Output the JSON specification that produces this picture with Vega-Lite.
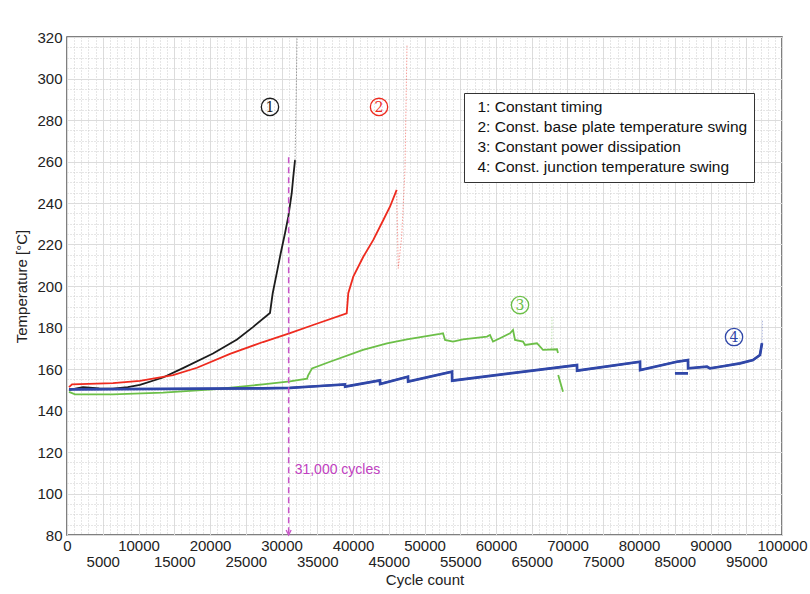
{
  "$schema": "https://vega.github.io/schema/vega-lite/v6.json",
  "width": 715,
  "height": 498,
  "autosize": "none",
  "padding": {"left": 67, "top": 37, "right": 28, "bottom": 59},
  "background": "white",
  "config": {
    "view": {"stroke": "#555", "strokeWidth": 1.5},
    "font": "Liberation Sans",
    "axis": {"labelFont": "Liberation Sans", "titleFont": "Liberation Sans", "labelFontSize": 15, "titleFontSize": 15, "titleFontWeight": "normal", "labelColor": "#222", "titleColor": "#222", "domain": false, "ticks": false, "labelOverlap": false, "labelBound": false, "labelFlush": false}
  },
  "datasets": {
    "lines": [
      {"s": "1: Constant timing", "g": "1a", "x": 280, "y": 149.9},
      {"s": "1: Constant timing", "g": "1a", "x": 2240, "y": 151.3},
      {"s": "1: Constant timing", "g": "1a", "x": 4500, "y": 150.6},
      {"s": "1: Constant timing", "g": "1a", "x": 6430, "y": 150.5},
      {"s": "1: Constant timing", "g": "1a", "x": 8500, "y": 151.3},
      {"s": "1: Constant timing", "g": "1a", "x": 10200, "y": 152.3},
      {"s": "1: Constant timing", "g": "1a", "x": 13430, "y": 155.9},
      {"s": "1: Constant timing", "g": "1a", "x": 16220, "y": 160.4},
      {"s": "1: Constant timing", "g": "1a", "x": 20420, "y": 167.5},
      {"s": "1: Constant timing", "g": "1a", "x": 23780, "y": 174.2},
      {"s": "1: Constant timing", "g": "1a", "x": 26000, "y": 180.2},
      {"s": "1: Constant timing", "g": "1a", "x": 28390, "y": 187.0},
      {"s": "1: Constant timing", "g": "1a", "x": 28770, "y": 196.5},
      {"s": "1: Constant timing", "g": "1a", "x": 29330, "y": 206.1},
      {"s": "1: Constant timing", "g": "1a", "x": 29890, "y": 215.8},
      {"s": "1: Constant timing", "g": "1a", "x": 30490, "y": 225.4},
      {"s": "1: Constant timing", "g": "1a", "x": 30950, "y": 233.4},
      {"s": "1: Constant timing", "g": "1a", "x": 31430, "y": 244.7},
      {"s": "1: Constant timing", "g": "1a", "x": 31650, "y": 252.7},
      {"s": "1: Constant timing", "g": "1a", "x": 31890, "y": 260.7},
      {"s": "2: Const. base plate temperature swing", "g": "2a", "x": 280, "y": 151.3},
      {"s": "2: Const. base plate temperature swing", "g": "2a", "x": 700, "y": 152.6},
      {"s": "2: Const. base plate temperature swing", "g": "2a", "x": 6430, "y": 153.2},
      {"s": "2: Const. base plate temperature swing", "g": "2a", "x": 10200, "y": 154.3},
      {"s": "2: Const. base plate temperature swing", "g": "2a", "x": 14830, "y": 157.0},
      {"s": "2: Const. base plate temperature swing", "g": "2a", "x": 18180, "y": 160.6},
      {"s": "2: Const. base plate temperature swing", "g": "2a", "x": 22800, "y": 167.3},
      {"s": "2: Const. base plate temperature swing", "g": "2a", "x": 27410, "y": 173.0},
      {"s": "2: Const. base plate temperature swing", "g": "2a", "x": 31190, "y": 177.3},
      {"s": "2: Const. base plate temperature swing", "g": "2a", "x": 34410, "y": 181.2},
      {"s": "2: Const. base plate temperature swing", "g": "2a", "x": 39120, "y": 186.8},
      {"s": "2: Const. base plate temperature swing", "g": "2a", "x": 39340, "y": 196.5},
      {"s": "2: Const. base plate temperature swing", "g": "2a", "x": 40040, "y": 204.5},
      {"s": "2: Const. base plate temperature swing", "g": "2a", "x": 41440, "y": 214.1},
      {"s": "2: Const. base plate temperature swing", "g": "2a", "x": 42840, "y": 222.2},
      {"s": "2: Const. base plate temperature swing", "g": "2a", "x": 44240, "y": 231.8},
      {"s": "2: Const. base plate temperature swing", "g": "2a", "x": 45170, "y": 238.2},
      {"s": "2: Const. base plate temperature swing", "g": "2a", "x": 46110, "y": 246.3},
      {"s": "3: Constant power dissipation", "g": "3a", "x": 280, "y": 149.0},
      {"s": "3: Constant power dissipation", "g": "3a", "x": 1120, "y": 147.8},
      {"s": "3: Constant power dissipation", "g": "3a", "x": 6430, "y": 147.8},
      {"s": "3: Constant power dissipation", "g": "3a", "x": 13430, "y": 148.6},
      {"s": "3: Constant power dissipation", "g": "3a", "x": 20420, "y": 150.2},
      {"s": "3: Constant power dissipation", "g": "3a", "x": 27410, "y": 152.6},
      {"s": "3: Constant power dissipation", "g": "3a", "x": 31190, "y": 154.0},
      {"s": "3: Constant power dissipation", "g": "3a", "x": 33570, "y": 155.3},
      {"s": "3: Constant power dissipation", "g": "3a", "x": 33710, "y": 156.8},
      {"s": "3: Constant power dissipation", "g": "3a", "x": 34270, "y": 160.3},
      {"s": "3: Constant power dissipation", "g": "3a", "x": 36780, "y": 163.5},
      {"s": "3: Constant power dissipation", "g": "3a", "x": 41400, "y": 169.2},
      {"s": "3: Constant power dissipation", "g": "3a", "x": 44760, "y": 172.4},
      {"s": "3: Constant power dissipation", "g": "3a", "x": 47550, "y": 174.3},
      {"s": "3: Constant power dissipation", "g": "3a", "x": 52170, "y": 176.9},
      {"s": "3: Constant power dissipation", "g": "3a", "x": 52590, "y": 177.2},
      {"s": "3: Constant power dissipation", "g": "3a", "x": 52870, "y": 174.0},
      {"s": "3: Constant power dissipation", "g": "3a", "x": 53990, "y": 173.2},
      {"s": "3: Constant power dissipation", "g": "3a", "x": 55380, "y": 174.3},
      {"s": "3: Constant power dissipation", "g": "3a", "x": 58740, "y": 175.6},
      {"s": "3: Constant power dissipation", "g": "3a", "x": 59160, "y": 176.4},
      {"s": "3: Constant power dissipation", "g": "3a", "x": 59580, "y": 173.2},
      {"s": "3: Constant power dissipation", "g": "3a", "x": 60560, "y": 174.8},
      {"s": "3: Constant power dissipation", "g": "3a", "x": 61960, "y": 177.2},
      {"s": "3: Constant power dissipation", "g": "3a", "x": 62380, "y": 178.8},
      {"s": "3: Constant power dissipation", "g": "3a", "x": 62660, "y": 174.0},
      {"s": "3: Constant power dissipation", "g": "3a", "x": 63780, "y": 173.2},
      {"s": "3: Constant power dissipation", "g": "3a", "x": 64060, "y": 171.6},
      {"s": "3: Constant power dissipation", "g": "3a", "x": 65730, "y": 172.4},
      {"s": "3: Constant power dissipation", "g": "3a", "x": 66570, "y": 169.2},
      {"s": "3: Constant power dissipation", "g": "3a", "x": 68530, "y": 169.5},
      {"s": "3: Constant power dissipation", "g": "3a", "x": 68670, "y": 167.7},
      {"s": "3: Constant power dissipation", "g": "3b", "x": 68700, "y": 157.1},
      {"s": "3: Constant power dissipation", "g": "3b", "x": 69000, "y": 153.5},
      {"s": "3: Constant power dissipation", "g": "3b", "x": 69370, "y": 149.0},
      {"s": "4: Const. junction temperature swing", "g": "4a", "x": 280, "y": 150.2},
      {"s": "4: Const. junction temperature swing", "g": "4a", "x": 27410, "y": 150.7},
      {"s": "4: Const. junction temperature swing", "g": "4a", "x": 31190, "y": 150.9},
      {"s": "4: Const. junction temperature swing", "g": "4a", "x": 35380, "y": 151.8},
      {"s": "4: Const. junction temperature swing", "g": "4a", "x": 38880, "y": 152.6},
      {"s": "4: Const. junction temperature swing", "g": "4a", "x": 38900, "y": 151.5},
      {"s": "4: Const. junction temperature swing", "g": "4a", "x": 43780, "y": 154.5},
      {"s": "4: Const. junction temperature swing", "g": "4a", "x": 43800, "y": 152.8},
      {"s": "4: Const. junction temperature swing", "g": "4a", "x": 47690, "y": 156.3},
      {"s": "4: Const. junction temperature swing", "g": "4a", "x": 47710, "y": 153.9},
      {"s": "4: Const. junction temperature swing", "g": "4a", "x": 53850, "y": 158.7},
      {"s": "4: Const. junction temperature swing", "g": "4a", "x": 53870, "y": 154.4},
      {"s": "4: Const. junction temperature swing", "g": "4a", "x": 71330, "y": 161.9},
      {"s": "4: Const. junction temperature swing", "g": "4a", "x": 71350, "y": 159.2},
      {"s": "4: Const. junction temperature swing", "g": "4a", "x": 80140, "y": 163.5},
      {"s": "4: Const. junction temperature swing", "g": "4a", "x": 80160, "y": 159.5},
      {"s": "4: Const. junction temperature swing", "g": "4a", "x": 85310, "y": 163.5},
      {"s": "4: Const. junction temperature swing", "g": "4a", "x": 86850, "y": 164.3},
      {"s": "4: Const. junction temperature swing", "g": "4a", "x": 86870, "y": 160.3},
      {"s": "4: Const. junction temperature swing", "g": "4a", "x": 89510, "y": 161.1},
      {"s": "4: Const. junction temperature swing", "g": "4a", "x": 89930, "y": 160.3},
      {"s": "4: Const. junction temperature swing", "g": "4a", "x": 91330, "y": 161.1},
      {"s": "4: Const. junction temperature swing", "g": "4a", "x": 94130, "y": 162.7},
      {"s": "4: Const. junction temperature swing", "g": "4a", "x": 95940, "y": 164.3},
      {"s": "4: Const. junction temperature swing", "g": "4a", "x": 96920, "y": 166.7},
      {"s": "4: Const. junction temperature swing", "g": "4a", "x": 97200, "y": 172.4},
      {"s": "4: Const. junction temperature swing", "g": "4b", "x": 85030, "y": 157.9},
      {"s": "4: Const. junction temperature swing", "g": "4b", "x": 86850, "y": 157.9}
    ],
    "tails": [
      {"s": "1: Constant timing", "g": "1t", "x": 31890, "y": 260.7},
      {"s": "1: Constant timing", "g": "1t", "x": 32050, "y": 290},
      {"s": "1: Constant timing", "g": "1t", "x": 32170, "y": 320},
      {"s": "2: Const. base plate temperature swing", "g": "2t", "x": 46110, "y": 246.3},
      {"s": "2: Const. base plate temperature swing", "g": "2t", "x": 46330, "y": 208.5},
      {"s": "2: Const. base plate temperature swing", "g": "2t", "x": 46810, "y": 223.8},
      {"s": "2: Const. base plate temperature swing", "g": "2t", "x": 47270, "y": 255.9},
      {"s": "2: Const. base plate temperature swing", "g": "2t", "x": 47550, "y": 316},
      {"s": "3: Constant power dissipation", "g": "3t", "x": 67800, "y": 170},
      {"s": "3: Constant power dissipation", "g": "3t", "x": 67830, "y": 185},
      {"s": "4: Const. junction temperature swing", "g": "4t", "x": 97200, "y": 172.4},
      {"s": "4: Const. junction temperature swing", "g": "4t", "x": 97250, "y": 183.6}
    ],
    "marks": [
      {"s": "1: Constant timing", "n": "1", "x": 28390, "y": 286.3},
      {"s": "2: Const. base plate temperature swing", "n": "2", "x": 43640, "y": 286.3},
      {"s": "3: Constant power dissipation", "n": "3", "x": 63360, "y": 190.8},
      {"s": "4: Const. junction temperature swing", "n": "4", "x": 93290, "y": 175.4}
    ],
    "cut": [{"x": 31000, "y": 262, "y2": 80, "label": "31,000 cycles", "ly": 111.3}]
  },
  "layer": [
    {
      "data": {"name": "lines"},
      "mark": {"type": "line", "strokeWidth": 1.8},
      "encoding": {
        "x": {
          "field": "x", "type": "quantitative", "title": "Cycle count",
          "scale": {"domain": [0, 100000], "nice": false, "zero": false},
          "axis": {
            "values": [0,1000,2000,3000,4000,5000,6000,7000,8000,9000,10000,11000,12000,13000,14000,15000,16000,17000,18000,19000,20000,21000,22000,23000,24000,25000,26000,27000,28000,29000,30000,31000,32000,33000,34000,35000,36000,37000,38000,39000,40000,41000,42000,43000,44000,45000,46000,47000,48000,49000,50000,51000,52000,53000,54000,55000,56000,57000,58000,59000,60000,61000,62000,63000,64000,65000,66000,67000,68000,69000,70000,71000,72000,73000,74000,75000,76000,77000,78000,79000,80000,81000,82000,83000,84000,85000,86000,87000,88000,89000,90000,91000,92000,93000,94000,95000,96000,97000,98000,99000,100000],
            "tickCount": 500,
            "format": "d",
            "labelOverlap": false,
            "labelExpr": "datum.value % 5000 === 0 ? datum.label : ''",
            "labelPadding": {"condition": {"test": "datum.value % 10000 !== 0", "value": 19}, "value": 3},
            "titlePadding": 3,
            "gridColor": {"condition": {"test": "datum.value % 5000 !== 0", "value": "#cccccc"}, "value": "#dcdcdc"},
            "gridDash": {"condition": {"test": "datum.value % 5000 !== 0", "value": [1, 2]}, "value": []},
            "gridWidth": 1
          }
        },
        "y": {
          "field": "y", "type": "quantitative", "title": "Temperature [°C]",
          "scale": {"domain": [80, 320], "nice": false, "zero": false},
          "axis": {
            "values": [80,85,90,95,100,105,110,115,120,125,130,135,140,145,150,155,160,165,170,175,180,185,190,195,200,205,210,215,220,225,230,235,240,245,250,255,260,265,270,275,280,285,290,295,300,305,310,315,320],
            "tickCount": 500,
            "format": "d",
            "labelOverlap": false,
            "labelExpr": "datum.value % 20 === 0 ? datum.label : ''",
            "labelPadding": 5,
            "titlePadding": 7,
            "gridColor": {"condition": {"test": "datum.value % 20 !== 0", "value": "#cccccc"}, "value": "#dcdcdc"},
            "gridDash": {"condition": {"test": "datum.value % 20 !== 0", "value": [1, 2]}, "value": []},
            "gridWidth": 1
          }
        },
        "color": {
          "field": "s", "type": "nominal",
          "scale": {
            "domain": ["1: Constant timing", "2: Const. base plate temperature swing", "3: Constant power dissipation", "4: Const. junction temperature swing"],
            "range": ["#1c1c1c", "#ee2b1f", "#6cbf48", "#3047a8"]
          },
          "legend": {
            "orient": "none", "legendX": 397, "legendY": 56, "title": null,
            "strokeColor": "#333", "fillColor": "white", "padding": 6, "rowPadding": 3,
            "labelFontSize": 15.5, "labelFont": "Liberation Sans", "labelColor": "#111",
            "symbolType": "circle", "symbolSize": 1, "symbolStrokeWidth": 0, "symbolOpacity": 0, "labelOffset": -8, "labelLimit": 400
          }
        },
        "detail": {"field": "g"}
      }
    },
    {
      "data": {"name": "tails"},
      "mark": {"type": "line", "strokeWidth": 1, "opacity": 0.45, "strokeDash": [1.5, 1.5]},
      "encoding": {
        "x": {"field": "x", "type": "quantitative"},
        "y": {"field": "y", "type": "quantitative"},
        "color": {"field": "s", "type": "nominal", "legend": null},
        "detail": {"field": "g"}
      }
    },
    {
      "data": {"name": "lines"},
      "transform": [{"filter": "datum.s === '4: Const. junction temperature swing'"}],
      "mark": {"type": "line", "strokeWidth": 2.7, "color": "#3047a8"},
      "encoding": {
        "x": {"field": "x", "type": "quantitative"},
        "y": {"field": "y", "type": "quantitative"},
        "detail": {"field": "g"}
      }
    },
    {
      "data": {"name": "cut"},
      "mark": {"type": "rule", "color": "#c855c8", "strokeWidth": 1.5, "strokeDash": [6, 4]},
      "encoding": {
        "x": {"field": "x", "type": "quantitative"},
        "y": {"field": "y", "type": "quantitative"},
        "y2": {"field": "y2"}
      }
    },
    {
      "data": {"name": "cut"},
      "mark": {"type": "point", "shape": "M-0.5,-1L0,0L0.5,-1", "filled": false, "size": 100, "color": "#c855c8", "strokeWidth": 1.3, "opacity": 1},
      "encoding": {
        "x": {"field": "x", "type": "quantitative"},
        "y": {"field": "y2", "type": "quantitative"}
      }
    },
    {
      "data": {"name": "cut"},
      "mark": {"type": "text", "align": "left", "baseline": "middle", "dx": 6, "fontSize": 14, "font": "Liberation Sans", "color": "#c040c0"},
      "encoding": {
        "x": {"field": "x", "type": "quantitative"},
        "y": {"field": "ly", "type": "quantitative"},
        "text": {"field": "label"}
      }
    },
    {
      "data": {"name": "marks"},
      "mark": {"type": "point", "shape": "circle", "filled": false, "size": 300, "strokeWidth": 1.3, "opacity": 1},
      "encoding": {
        "x": {"field": "x", "type": "quantitative"},
        "y": {"field": "y", "type": "quantitative"},
        "color": {"field": "s", "type": "nominal", "legend": null}
      }
    },
    {
      "data": {"name": "marks"},
      "mark": {"type": "text", "align": "center", "baseline": "middle", "fontSize": 14, "font": "DejaVu Serif", "dy": 1},
      "encoding": {
        "x": {"field": "x", "type": "quantitative"},
        "y": {"field": "y", "type": "quantitative"},
        "color": {"field": "s", "type": "nominal", "legend": null},
        "text": {"field": "n"}
      }
    }
  ]
}
